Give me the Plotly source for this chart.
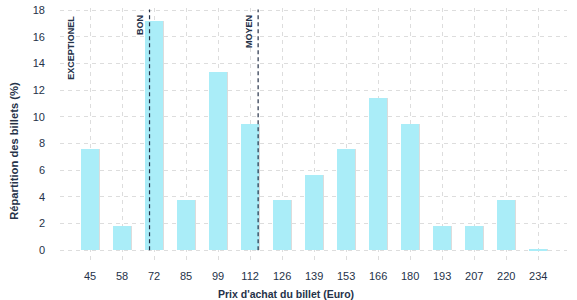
import numpy as np
import plotly.graph_objects as go

prices = [45, 58, 72, 85, 99, 112, 126, 139, 153, 166, 180, 193, 207, 220, 234]
shares = [7.6, 1.85, 17.2, 3.75, 13.4, 9.5, 3.75, 5.65, 7.6, 11.45, 9.5, 1.85, 1.85, 3.75, 0.1]
tick_labels = [str(p) for p in prices]

ref_labels = ["EXCEPTIONEL", "BON", "MOYEN"]
ref_prices = [41.0, 70.0, 115.5]
ref_show_line = [False, True, True]

x_title = "Prix d'achat du billet (Euro)"
y_title = "Répartition des billets (%)"

idx = list(range(len(prices)))
ref_pos = [float(np.interp(p, prices, idx)) if p >= prices[0]
           else (p - prices[0]) / 13.0 for p in ref_prices]

NAVY = "#253249"
BAR = "#aaedf8"
FONT = "Liberation Sans, Arial, sans-serif"

W, H = 577, 300
ML, MR, MT, MB = 60, 10, 4, 36
PW, PH = W - ML - MR, H - MT - MB

def px_to_paper_x(px):
    return (px - ML) / PW

def px_to_paper_y(py):
    return (H - MB - py) / PH

fig = go.Figure()
fig.add_trace(go.Bar(x=idx, y=shares, width=0.55, offset=-0.25,
                     marker=dict(color="#dcdcdc", line=dict(width=0)),
                     hoverinfo="skip", showlegend=False))
fig.add_trace(go.Bar(x=idx, y=shares, width=0.55, offset=-0.28,
                     marker=dict(color=BAR, line=dict(width=0)),
                     showlegend=False))

for lab, pos, show in zip(ref_labels, ref_pos, ref_show_line):
    if show:
        fig.add_shape(type="line", x0=pos, x1=pos, y0=0, y1=18.05, xref="x", yref="y",
                      line=dict(color=NAVY, width=1.2, dash="4px,3px"), layer="above")
    fig.add_annotation(x=pos, y=17.75, xref="x", yref="y", text=lab, showarrow=False,
                       textangle=-90, xanchor="right", yanchor="top", xshift=-2,
                       font=dict(family=FONT, size=9, color=NAVY, weight="bold"))

# axis titles centred on the whole figure, as in the reference
fig.add_annotation(x=px_to_paper_x(W / 2 - 3), y=px_to_paper_y(294), xref="paper", yref="paper",
                   text=x_title, showarrow=False, xanchor="center", yanchor="middle",
                   font=dict(family=FONT, size=10.5, color=NAVY, weight="bold"))
fig.add_annotation(x=px_to_paper_x(14), y=px_to_paper_y(H / 2 - 1), xref="paper", yref="paper",
                   text=y_title, showarrow=False, textangle=-90, xanchor="center", yanchor="middle",
                   font=dict(family=FONT, size=11.2, color=NAVY, weight="bold"))

fig.update_layout(
    width=W, height=H,
    margin=dict(l=ML, r=MR, t=MT, b=MB),
    paper_bgcolor="white", plot_bgcolor="white",
    barmode="overlay", bargap=0,
    font=dict(family=FONT, color=NAVY, size=10),
    xaxis=dict(range=[-0.94, 14.9], tickmode="array", tickvals=idx, ticktext=tick_labels,
               showgrid=True, gridcolor="#dddddd", griddash="4px,4px", gridwidth=1,
               zeroline=False, showline=False, ticks="", ticklabelstandoff=4,
               tickfont=dict(size=11, color=NAVY)),
    yaxis=dict(range=[-1.03, 18.16], tickmode="array", tickvals=list(range(0, 19, 2)),
               showgrid=True, gridcolor="#dddddd", griddash="4px,4px", gridwidth=1,
               zeroline=False, showline=False, ticks="", ticklabelstandoff=14,
               tickfont=dict(size=11, color=NAVY)),
)

fig.write_html("out.html")
